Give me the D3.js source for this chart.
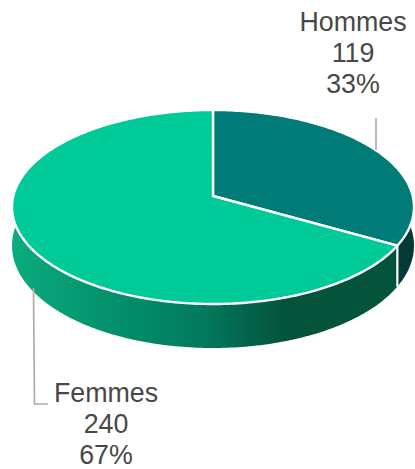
<!DOCTYPE html>
<meta charset="utf-8">
<style>
html, body { margin: 0; padding: 0; background: #fff; }
svg { display: block; }
text { font-family: "Liberation Sans", sans-serif; font-size: 26.8px; fill: #484848; text-anchor: middle; }
</style>
<svg width="415" height="469"></svg>
<script src="https://d3js.org/d3.v7.min.js"></script>
<script>
const categories = ["Hommes", "Femmes"];
const values = [119, 240];
const percents = ["33%", "67%"];
const topColors = ["#007b78", "#00cb98"];

const svg = d3.select("svg");

// the pie is drawn in perspective, the near edge is bigger than the far one
const cx = 213, cy = 196, rxBase = 199.7, ryBase = 95.75, persp = 0.1134;
const project = function(angle, drop) {
	let u = Math.sin(angle), v = -Math.cos(angle);
	let w = 1 - persp * v;
	let depth = drop ? 38 + 6 * v : 0;
	return [cx + rxBase * u / w, cy + ryBase * v / w + depth];
};
const apex = [cx, cy];

const pie = d3.pie().sort(null);
const slices = pie(values);
const line = d3.line();

function rim(a0, a1, drop) {
	let n = Math.ceil((a1 - a0) * 60);
	return d3.range(n + 1).map(i => project(a0 + (a1 - a0) * i / n, drop));
}

// horizontal shading of the front wall
const defs = svg.append("defs");
const grad = defs.append("linearGradient")
	.attr("id", "wallGrad")
	.attr("gradientUnits", "userSpaceOnUse")
	.attr("x1", 12).attr("x2", 414).attr("y1", 0).attr("y2", 0);
const wallStops = [[0, "#0cab80"], [0.2, "#04966f"], [0.47, "#027a5e"], [0.68, "#04533b"], [1, "#04533b"]];
grad.selectAll("stop").data(wallStops).enter().append("stop")
	.attr("offset", d => d[0])
	.attr("stop-color", d => d[1]);

// walls
svg.selectAll("path.wall").data(slices).enter().append("path")
	.attr("class", "wall")
	.attr("fill", (d, i) => i == 0 ? "#033a38" : "url(#wallGrad)")
	.attr("d", d => line(rim(d.startAngle, d.endAngle, false).concat(rim(d.startAngle, d.endAngle, true).reverse())) + "Z");

// separator on the wall between the two slices
svg.append("path")
	.attr("fill", "none")
	.attr("stroke", "#fff")
	.attr("stroke-width", 2.2)
	.attr("d", line([project(slices[1].startAngle, false), project(slices[1].startAngle, true)]));

// tops
svg.selectAll("path.top").data(slices).enter().append("path")
	.attr("class", "top")
	.attr("fill", (d, i) => topColors[i])
	.attr("stroke", "#fff")
	.attr("stroke-width", 2.4)
	.attr("stroke-linejoin", "round")
	.attr("d", d => line([apex].concat(rim(d.startAngle, d.endAngle, false))) + "Z");

// leader lines
const leaders = [
	[[376, 118], [376, 150]],
	[[33.5, 288], [34.5, 404], [48, 404]]
];
svg.selectAll("path.leader").data(leaders).enter().append("path")
	.attr("class", "leader")
	.attr("fill", "none")
	.attr("stroke", "#adadad")
	.attr("stroke-width", 1.7)
	.attr("d", d => line(d));

// labels
const labelPos = [[353, 31], [106, 402]];
categories.forEach(function(c, i) {
	let t = svg.append("text").attr("x", labelPos[i][0]).attr("y", labelPos[i][1]);
	[c, values[i], percents[i]].forEach(function(s, j) {
		t.append("tspan").attr("x", labelPos[i][0]).attr("dy", j == 0 ? 0 : 31).text(s);
	});
});
</script>
